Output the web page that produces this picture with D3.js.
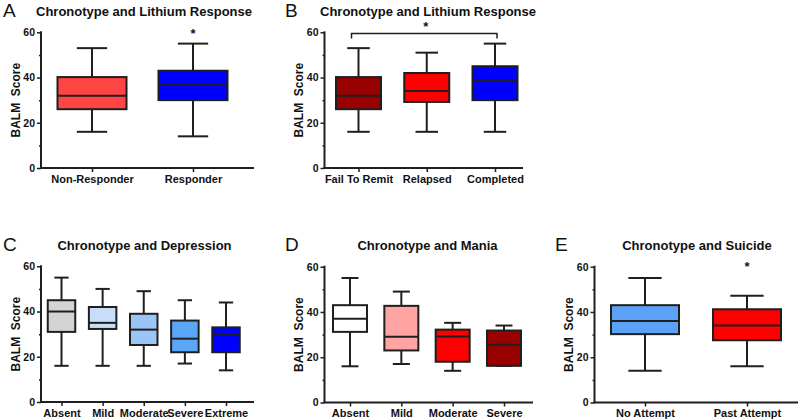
<!DOCTYPE html>
<html>
<head>
<meta charset="utf-8">
<script src="https://cdn.jsdelivr.net/npm/d3@7"></script>
<style>
  html, body { margin: 0; padding: 0; background: #fff; }
  svg { display: block; font-family: Arial, "Liberation Sans", sans-serif; }
</style>
</head>
<body>
<svg id="chart" width="800" height="419"></svg>
<script>
// ---------------- DATA ----------------
// box stats: [min, q1, median, q3, max]
const yTicks = [0, 20, 40, 60];
const yMinorTicks = [10, 30, 50];

const aCategories = ["Non-Responder", "Responder"];
const aStats = [[16, 26, 32, 40.2, 53], [14, 30, 37, 43, 55]];

const bCategories = ["Fail To Remit", "Relapsed", "Completed"];
const bStats = [[16, 26, 32, 40.2, 53], [16, 29.2, 34, 42, 51], [16, 30, 38.5, 45, 55]];

const cCategories = ["Absent", "Mild", "Moderate", "Severe", "Extreme"];
const cStats = [[16, 31, 40, 45, 55], [16, 32.3, 35, 42, 50], [16, 25.2, 32, 39, 49], [17, 22, 28, 36, 45], [14, 22, 30, 33, 44]];

const dCategories = ["Absent", "Mild", "Moderate", "Severe"];
const dStats = [[16, 31.2, 37, 43, 55], [17, 23, 29, 42.7, 49], [14, 18, 29.2, 32.2, 35.2], [16.2, 16.2, 25.5, 31.8, 34]];

const eCategories = ["No Attempt", "Past Attempt"];
const eStats = [[14, 30.2, 36, 43, 55], [16, 27.5, 34, 41.2, 47.2]];

// colours (styles kept separate from data)
const aColors = ["#ff4444", "#0000ff"];
const bColors = ["#990000", "#ff0000", "#0000ff"];
const cColors = ["#d4d4d4", "#c8def8", "#9cc5f7", "#5aa6f7", "#0000ff"];
const dColors = ["#ffffff", "#ffa3a3", "#ff0000", "#990000"];
const eColors = ["#5ba2f7", "#ff0000"];

// ---------------- DRAW ----------------
const svg = d3.select("#chart");
const INK = "#1f1f1f";

function panel(cfg) {
  const g = svg.append("g");
  const y = d3.scaleLinear().domain([0, 60]).range([cfg.y0, cfg.y60]);
  const x = d3.scalePoint().domain(cfg.categories).range([cfg.firstX, cfg.lastX]);

  // panel letter
  g.append("text").attr("x", cfg.letterX).attr("y", cfg.titleY + 1)
    .attr("font-size", 19).attr("fill", "#111").text(cfg.letter);
  // title
  g.append("text").attr("x", cfg.titleX).attr("y", cfg.titleY)
    .attr("text-anchor", "middle").attr("font-size", 13).attr("font-weight", "bold")
    .attr("fill", "#111").text(cfg.title);

  // y axis
  const yAxis = d3.axisLeft(y).tickValues(yTicks).tickSize(4).tickPadding(2).tickFormat(d3.format("d"));
  const ya = g.append("g").attr("transform", `translate(${cfg.axisX},0)`).call(yAxis);
  ya.select(".domain").attr("stroke", INK).attr("stroke-width", 2)
    .attr("d", `M0,${cfg.y60 - 1}V${cfg.y0}`);
  ya.selectAll(".tick line").attr("stroke", INK).attr("stroke-width", 1.5);
  ya.selectAll(".tick text").attr("font-size", 10.5).attr("font-weight", "bold").attr("fill", "#111")
    .attr("font-family", "Arial, 'Liberation Sans', sans-serif");
  const yMinor = d3.axisLeft(y).tickValues(yMinorTicks).tickSize(2).tickFormat("");
  const ym = g.append("g").attr("transform", `translate(${cfg.axisX},0)`).call(yMinor);
  ym.select(".domain").remove();
  ym.selectAll(".tick line").attr("stroke", INK).attr("stroke-width", 1.5);

  // y label
  g.append("text")
    .attr("transform", `translate(${cfg.ylabelX},${(cfg.y0 + cfg.y60) / 2}) rotate(-90)`)
    .attr("text-anchor", "middle").attr("font-size", 12).attr("font-weight", "bold")
    .style("white-space", "pre")
    .attr("fill", "#111").text("BALM  Score");

  // x axis
  const xAxis = d3.axisBottom(x).tickSize(4).tickPadding(3);
  const xa = g.append("g").attr("transform", `translate(0,${cfg.y0})`).call(xAxis);
  xa.select(".domain").attr("stroke", INK).attr("stroke-width", 2)
    .attr("d", `M${cfg.axisX - 1},0H${cfg.axisEnd}`);
  xa.selectAll(".tick line").attr("stroke", INK).attr("stroke-width", 1.5);
  xa.selectAll(".tick text").attr("font-size", 11).attr("font-weight", "bold").attr("fill", "#111")
    .attr("font-family", "Arial, 'Liberation Sans', sans-serif");

  // boxes
  const bw = cfg.boxW;
  const cw = bw * cfg.capRatio;
  const boxes = g.selectAll(".box").data(cfg.categories.map((c, i) => ({ c, s: cfg.stats[i], col: cfg.colors[i] })))
    .enter().append("g").attr("class", "box");
  boxes.append("line").attr("x1", d => x(d.c)).attr("x2", d => x(d.c))
    .attr("y1", d => y(d.s[0])).attr("y2", d => y(d.s[4]))
    .attr("stroke", INK).attr("stroke-width", 2);
  boxes.append("line").attr("x1", d => x(d.c) - cw / 2).attr("x2", d => x(d.c) + cw / 2)
    .attr("y1", d => y(d.s[4])).attr("y2", d => y(d.s[4]))
    .attr("stroke", INK).attr("stroke-width", 2);
  boxes.append("line").attr("x1", d => x(d.c) - cw / 2).attr("x2", d => x(d.c) + cw / 2)
    .attr("y1", d => y(d.s[0])).attr("y2", d => y(d.s[0]))
    .attr("stroke", INK).attr("stroke-width", 2);
  boxes.append("rect").attr("x", d => x(d.c) - bw / 2).attr("width", bw)
    .attr("y", d => y(d.s[3])).attr("height", d => y(d.s[1]) - y(d.s[3]))
    .attr("fill", d => d.col).attr("stroke", INK).attr("stroke-width", 2);
  boxes.append("line").attr("x1", d => x(d.c) - bw / 2).attr("x2", d => x(d.c) + bw / 2)
    .attr("y1", d => y(d.s[2])).attr("y2", d => y(d.s[2]))
    .attr("stroke", INK).attr("stroke-width", 2);

  // significance star
  if (cfg.star) {
    g.append("text").attr("x", x(cfg.star)).attr("y", y(cfg.starY) + 7)
      .attr("text-anchor", "middle").attr("font-size", 13).attr("font-weight", "bold")
      .attr("fill", "#111").text("*");
  }
  if (cfg.bracket) {
    const [c1, c2, v] = cfg.bracket;
    const by = y(v);
    g.append("path")
      .attr("d", `M${x(c1) - 7},${by + 5}V${by}H${x(c2) + 2}V${by + 5}`)
      .attr("fill", "none").attr("stroke", INK).attr("stroke-width", 1.5);
    g.append("text").attr("x", (x(c1) + x(c2)) / 2 - 1).attr("y", by - 2)
      .attr("text-anchor", "middle").attr("font-size", 13).attr("font-weight", "bold")
      .attr("fill", "#111").text("*");
  }
}

panel({ letter: "A", letterX: 3, title: "Chronotype and Lithium Response", titleX: 144, titleY: 16,
  categories: aCategories, stats: aStats, colors: aColors,
  axisX: 41, axisEnd: 254, y0: 168, y60: 32.3, firstX: 92, lastX: 193, boxW: 69, capRatio: 0.44,
  ylabelX: 20, star: "Responder", starY: 60.5 });

panel({ letter: "B", letterX: 285, title: "Chronotype and Lithium Response", titleX: 428, titleY: 16,
  categories: bCategories, stats: bStats, colors: bColors,
  axisX: 324.5, axisEnd: 523, y0: 168, y60: 32.3, firstX: 358.5, lastX: 495, boxW: 45, capRatio: 0.5,
  ylabelX: 303, bracket: ["Fail To Remit", "Completed", 59.5] });

panel({ letter: "C", letterX: 3, title: "Chronotype and Depression", titleX: 144.5, titleY: 250,
  categories: cCategories, stats: cStats, colors: cColors,
  axisX: 41, axisEnd: 254, y0: 402, y60: 266.3, firstX: 61.5, lastX: 226, boxW: 27.5, capRatio: 0.52,
  ylabelX: 20 });

panel({ letter: "D", letterX: 285, title: "Chronotype and Mania", titleX: 427.5, titleY: 250,
  categories: dCategories, stats: dStats, colors: dColors,
  axisX: 324.5, axisEnd: 533, y0: 402.5, y60: 266.7, firstX: 350, lastX: 504, boxW: 34, capRatio: 0.5,
  ylabelX: 303 });

panel({ letter: "E", letterX: 555, title: "Chronotype and Suicide", titleX: 697, titleY: 250,
  categories: eCategories, stats: eStats, colors: eColors,
  axisX: 594.5, axisEnd: 798, y0: 402.5, y60: 266.7, firstX: 645, lastX: 747, boxW: 68, capRatio: 0.49,
  ylabelX: 573, star: "Past Attempt", starY: 61 });
</script>
</body>
</html>
